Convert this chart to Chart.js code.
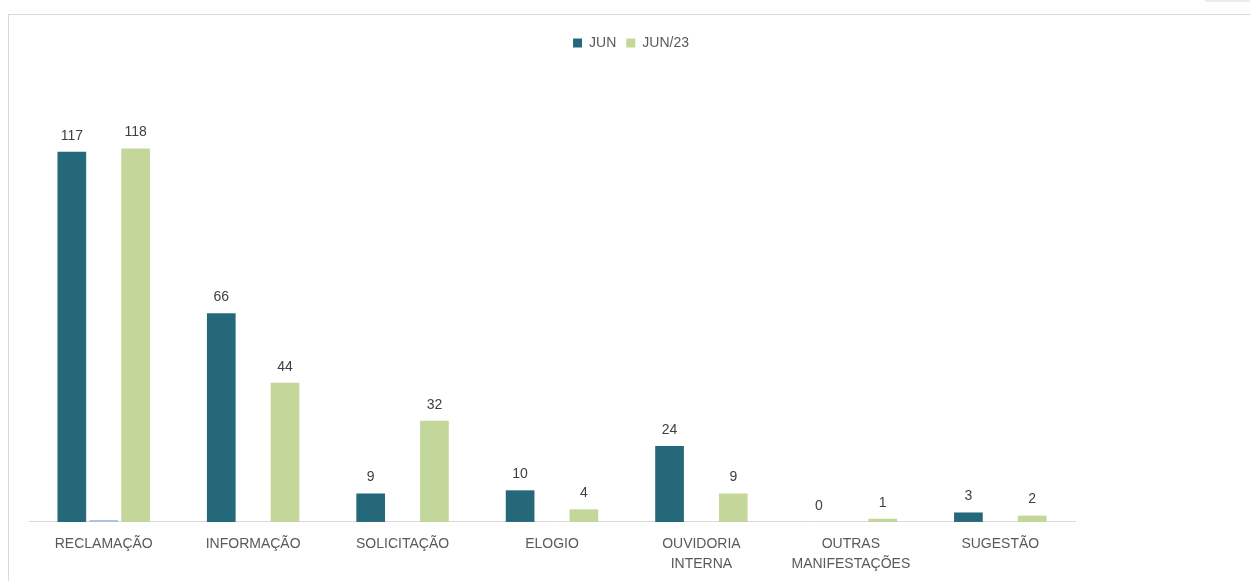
<!DOCTYPE html>
<html>
<head>
<meta charset="utf-8">
<script src="https://cdn.jsdelivr.net/npm/chart.js@4.4.0/dist/chart.umd.min.js"></script>
<style>
html, body { margin: 0; padding: 0; background: #fff; }
#wrap { position: relative; width: 1250px; height: 581px; overflow: hidden; }
#frame { position: absolute; left: 8px; top: 14px; width: 1300px; height: 620px; border-left: 1px solid #d9d9d9; border-top: 1px solid #d9d9d9; }
#strip { position: absolute; left: 1205px; top: 0; width: 45px; height: 2px; background: #ececec; }
canvas { position: absolute; left: 0; top: 0; }
</style>
</head>
<body>
<div id="wrap">
  <div id="strip"></div>
  <div id="frame"></div>
  <canvas id="myChart" width="1250" height="594"></canvas>
</div>
<script>
// categories on the x axis (two-line ones as arrays)
const categories = ['RECLAMAÇÃO', 'INFORMAÇÃO', 'SOLICITAÇÃO', 'ELOGIO', ['OUVIDORIA', 'INTERNA'], ['OUTRAS', 'MANIFESTAÇÕES'], 'SUGESTÃO'];

// JUN values
const jun = [117, 66, 9, 10, 24, 0, 3];
// unnamed middle series (only a sliver in the first category)
const middle = [0.6, null, null, null, null, null, null];
// JUN/23 values
const jun23 = [118, 44, 32, 4, 9, 1, 2];

const seriesNames = ['JUN', '', 'JUN/23'];

const FONT = "'Liberation Sans', Arial, sans-serif";

// draw the numbers over the bars (no datalabels plugin offline)
const valueLabels = {
    id: 'valueLabels',
    afterDatasetsDraw(chart) {
        const ctx = chart.ctx;
        ctx.save();
        ctx.font = '14px ' + FONT;
        ctx.fillStyle = '#404040';
        ctx.textAlign = 'center';
        ctx.textBaseline = 'bottom';
        [0, 2].forEach(di => {
            const meta = chart.getDatasetMeta(di);
            meta.data.forEach((bar, i) => {
                const v = chart.data.datasets[di].data[i];
                if (v === null) return;
                ctx.fillText(String(v), bar.x, bar.y - 9);
            });
        });
        ctx.restore();
    }
};

// legend: extra room under it and centred on the whole frame
const legendTweak = {
    id: 'legendTweak',
    beforeInit(chart) {
        const fit = chart.legend.fit;
        chart.legend.fit = function () {
            fit.bind(chart.legend)();
            this.height += 19;
        };
    },
    beforeDraw(chart) {
        chart.legend.left = 0;
        chart.legend.right = 1262;
    }
};

const ctx = document.getElementById('myChart').getContext('2d');
const myChart = new Chart(ctx, {
    type: 'bar',
    data: {
        labels: categories,
        datasets: [
            {
                label: seriesNames[0],
                data: jun,
                backgroundColor: '#256879',
                categoryPercentage: 0.64,
                barPercentage: 0.9
            },
            {
                label: seriesNames[1],
                data: middle,
                backgroundColor: '#a9bfe3',
                categoryPercentage: 0.64,
                barPercentage: 0.9
            },
            {
                label: seriesNames[2],
                data: jun23,
                backgroundColor: '#c4d79b',
                categoryPercentage: 0.64,
                barPercentage: 0.9
            }
        ]
    },
    options: {
        responsive: false,
        animation: false,
        layout: {
            padding: { left: 29, right: 175, top: 26, bottom: 8 }
        },
        scales: {
            x: {
                grid: { display: false, drawTicks: false },
                border: { display: true, color: '#d9d9d9', width: 1 },
                ticks: {
                    color: '#595959',
                    padding: 12,
                    maxRotation: 0,
                    autoSkip: false,
                    font: { family: FONT, size: 14, lineHeight: 1.43 }
                }
            },
            y: {
                display: false,
                min: 0,
                max: 140
            }
        },
        plugins: {
            legend: {
                position: 'top',
                labels: {
                    boxWidth: 9,
                    boxHeight: 9,
                    padding: 10,
                    color: '#595959',
                    font: { family: FONT, size: 14 },
                    filter: item => item.text !== ''
                }
            },
            tooltip: { enabled: false }
        }
    },
    plugins: [valueLabels, legendTweak]
});
</script>
</body>
</html>
